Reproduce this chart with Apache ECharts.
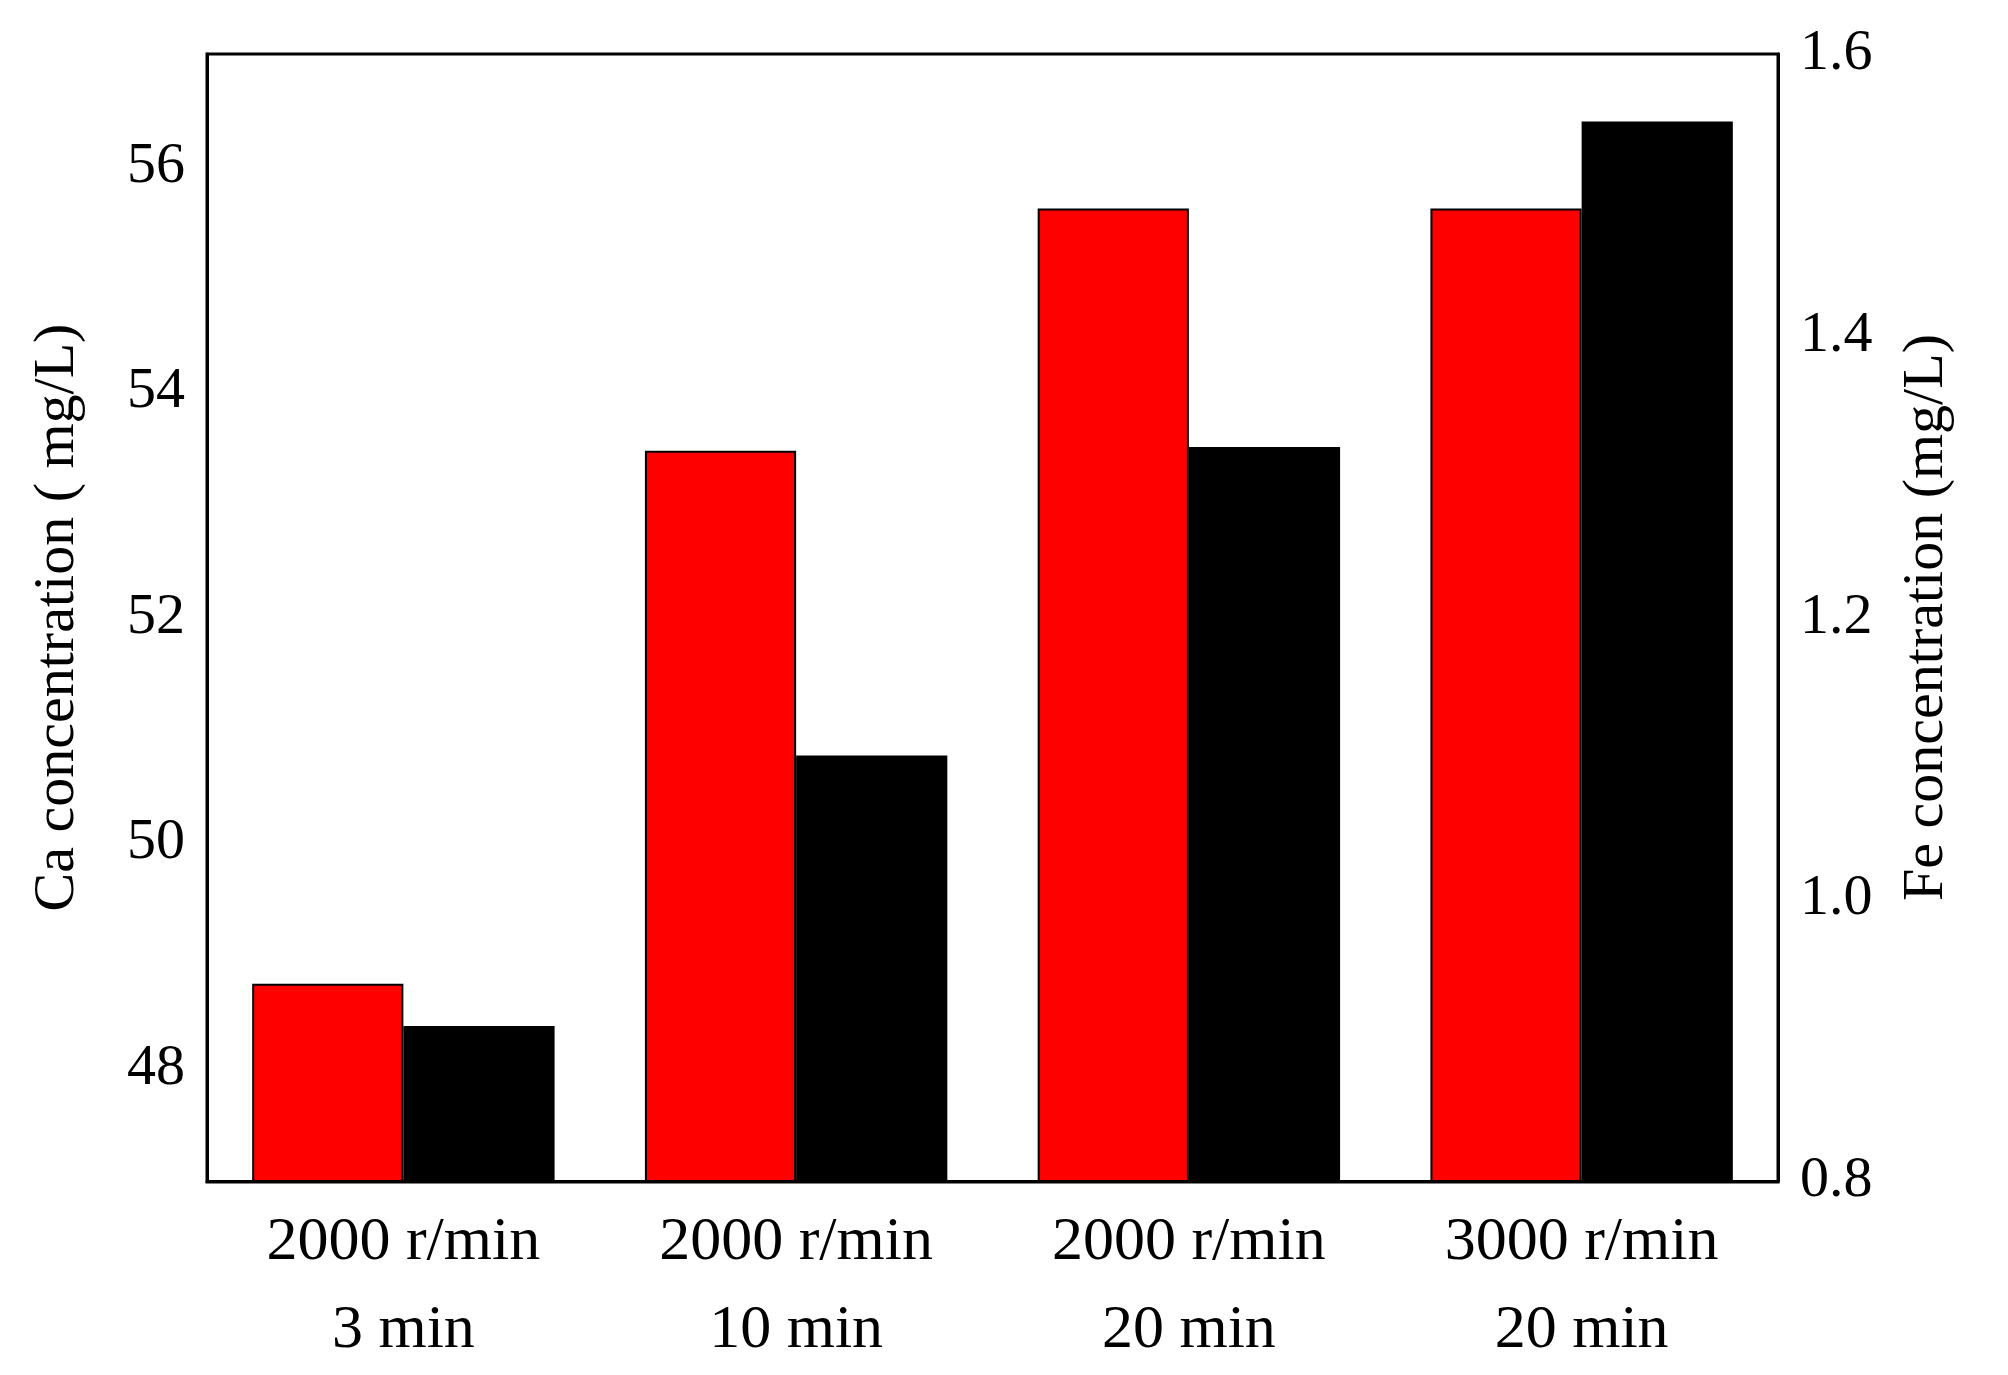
<!DOCTYPE html>
<html>
<head>
<meta charset="utf-8">
<script src="https://cdn.jsdelivr.net/npm/echarts@6/dist/echarts.min.js"></script>
<style>html,body{margin:0;background:#fff}#chart{width:2008px;height:1375px}</style>
</head>
<body>
<div id="chart"></div>
<script>
var categories = ["2000 r/min\n3 min", "2000 r/min\n10 min", "2000 r/min\n20 min", "3000 r/min\n20 min"];
var caValues = [48.75, 53.48, 55.63, 55.63];
var feValues = [0.91, 1.102, 1.321, 1.552];

var font = "Liberation Serif";
var chart = echarts.init(document.getElementById("chart"));
chart.setOption({
  animation: false,
  textStyle: { fontFamily: font },
  grid: { left: 207, right: 230, top: 54, bottom: 193 },
  xAxis: {
    type: "category",
    data: categories,
    axisLine: { lineStyle: { color: "#000", width: 3 } },
    axisTick: { show: false },
    axisLabel: { color: "#000", fontSize: 62, fontFamily: font, lineHeight: 88, margin: 18 }
  },
  yAxis: [
    {
      type: "value", min: 47, max: 57, interval: 1,
      name: "Ca concentration ( mg/L)", nameLocation: "middle", nameGap: 120,
      nameTextStyle: { color: "#000", fontSize: 58, fontFamily: font },
      axisLine: { show: true, lineStyle: { color: "#000", width: 3 } },
      axisTick: { inside: true, length: 14, lineStyle: { width: 2 } },
      axisLabel: {
        color: "#000", fontSize: 58, fontFamily: font, margin: 22,
        formatter: function (v) { return v % 2 === 0 ? v : ""; }
      },
      splitLine: { show: false }
    },
    {
      type: "value", min: 0.8, max: 1.6, interval: 0.1,
      name: "Fe concentration (mg/L)", nameLocation: "middle", nameGap: 120, nameRotate: 90,
      nameTextStyle: { color: "#000", fontSize: 58, fontFamily: font },
      axisLine: { show: true, lineStyle: { color: "#000", width: 3 } },
      axisTick: { inside: true, length: 14, lineStyle: { width: 2 } },
      axisLabel: {
        color: "#000", fontSize: 58, fontFamily: font, margin: 22,
        formatter: function (v) { return Math.round(v * 10) % 2 === 0 ? v.toFixed(1) : ""; }
      },
      splitLine: { show: false }
    }
  ],
  series: [
    {
      name: "Ca", type: "bar", yAxisIndex: 0, data: caValues,
      barGap: "0%", barCategoryGap: "23%",
      itemStyle: { color: "#ff0000", borderColor: "#000", borderWidth: 2 }
    },
    {
      name: "Fe", type: "bar", yAxisIndex: 1, data: feValues,
      itemStyle: { color: "#000", borderColor: "#000", borderWidth: 2 }
    }
  ],
  graphic: [{
    type: "rect", z: 100, silent: true,
    shape: { x: 207, y: 54, width: 2008 - 207 - 230, height: 1375 - 54 - 193 },
    style: { fill: "none", stroke: "#000", lineWidth: 3 }
  }]
});
</script>
</body>
</html>
